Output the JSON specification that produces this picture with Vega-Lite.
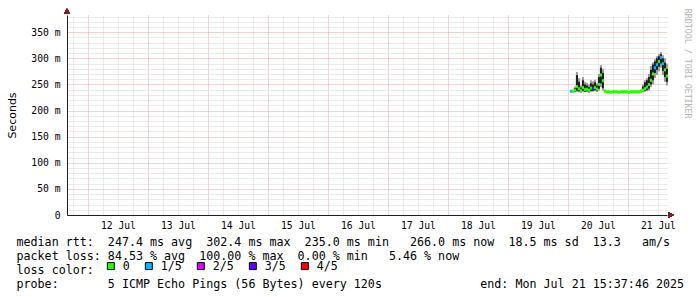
{
  "$schema": "https://vega.github.io/schema/vega-lite/v6.json",
  "width": 600,
  "height": 200,
  "autosize": {"type": "none"},
  "padding": {"left": 67, "top": 15, "right": 30, "bottom": 82},
  "background": "white",
  "config": {"view": {"stroke": null}, "font": "DejaVu Sans Mono", "axis": {"labelOverlap": false}},
  "title": {
    "text": "RRDTOOL / TOBI OETIKER",
    "orient": "right",
    "anchor": "start",
    "offset": 0,
    "font": "DejaVu Sans Mono",
    "fontSize": 8.3,
    "fontWeight": "normal",
    "color": "#b4b4b4"
  },
  "datasets": {
    "ping": [
      {"t": "2025-07-20T01:12", "med": 0.237, "loss": "1/5", "lo": 0.235, "hi": 0.239, "ilo": 0.236, "ihi": 0.238},
      {"t": "2025-07-20T02:00", "med": 0.237, "loss": "0", "lo": 0.235, "hi": 0.240, "ilo": 0.236, "ihi": 0.239},
      {"t": "2025-07-20T02:48", "med": 0.239, "loss": "0", "lo": 0.235, "hi": 0.246, "ilo": 0.236, "ihi": 0.243},
      {"t": "2025-07-20T03:36", "med": 0.246, "loss": "0", "lo": 0.236, "hi": 0.274, "ilo": 0.238, "ihi": 0.268},
      {"t": "2025-07-20T04:24", "med": 0.242, "loss": "0", "lo": 0.235, "hi": 0.262, "ilo": 0.237, "ihi": 0.255},
      {"t": "2025-07-20T05:12", "med": 0.238, "loss": "0", "lo": 0.234, "hi": 0.248, "ilo": 0.236, "ihi": 0.244},
      {"t": "2025-07-20T06:00", "med": 0.244, "loss": "0", "lo": 0.236, "hi": 0.264, "ilo": 0.238, "ihi": 0.258},
      {"t": "2025-07-20T06:48", "med": 0.240, "loss": "0", "lo": 0.235, "hi": 0.255, "ilo": 0.236, "ihi": 0.250},
      {"t": "2025-07-20T07:36", "med": 0.241, "loss": "0", "lo": 0.235, "hi": 0.253, "ilo": 0.237, "ihi": 0.248},
      {"t": "2025-07-20T08:24", "med": 0.239, "loss": "0", "lo": 0.234, "hi": 0.250, "ilo": 0.236, "ihi": 0.245},
      {"t": "2025-07-20T09:12", "med": 0.243, "loss": "0", "lo": 0.236, "hi": 0.258, "ilo": 0.238, "ihi": 0.252},
      {"t": "2025-07-20T10:00", "med": 0.242, "loss": "3/5", "lo": 0.236, "hi": 0.256, "ilo": 0.238, "ihi": 0.250},
      {"t": "2025-07-20T10:48", "med": 0.244, "loss": "0", "lo": 0.237, "hi": 0.259, "ilo": 0.239, "ihi": 0.254},
      {"t": "2025-07-20T11:36", "med": 0.241, "loss": "0", "lo": 0.236, "hi": 0.252, "ilo": 0.237, "ihi": 0.248},
      {"t": "2025-07-20T12:24", "med": 0.250, "loss": "0", "lo": 0.238, "hi": 0.270, "ilo": 0.242, "ihi": 0.264},
      {"t": "2025-07-20T13:12", "med": 0.268, "loss": "0", "lo": 0.245, "hi": 0.287, "ilo": 0.252, "ihi": 0.282},
      {"t": "2025-07-20T14:00", "med": 0.257, "loss": "0", "lo": 0.238, "hi": 0.280, "ilo": 0.243, "ihi": 0.272},
      {"t": "2025-07-20T14:48", "med": 0.237, "loss": "0", "lo": 0.235, "hi": 0.240, "ilo": 0.236, "ihi": 0.238},
      {"t": "2025-07-20T15:36", "med": 0.236, "loss": "0", "lo": 0.2355, "hi": 0.2365, "ilo": 0.2355, "ihi": 0.2365},
      {"t": "2025-07-20T16:24", "med": 0.236, "loss": "0", "lo": 0.2355, "hi": 0.2365, "ilo": 0.2355, "ihi": 0.2365},
      {"t": "2025-07-20T17:12", "med": 0.235, "loss": "0", "lo": 0.2345, "hi": 0.2355, "ilo": 0.2345, "ihi": 0.2355},
      {"t": "2025-07-20T18:00", "med": 0.236, "loss": "0", "lo": 0.2355, "hi": 0.2365, "ilo": 0.2355, "ihi": 0.2365},
      {"t": "2025-07-20T18:48", "med": 0.236, "loss": "0", "lo": 0.2355, "hi": 0.2365, "ilo": 0.2355, "ihi": 0.2365},
      {"t": "2025-07-20T19:36", "med": 0.236, "loss": "0", "lo": 0.2355, "hi": 0.2365, "ilo": 0.2355, "ihi": 0.2365},
      {"t": "2025-07-20T20:24", "med": 0.235, "loss": "0", "lo": 0.2345, "hi": 0.2355, "ilo": 0.2345, "ihi": 0.2355},
      {"t": "2025-07-20T21:12", "med": 0.236, "loss": "0", "lo": 0.2355, "hi": 0.2365, "ilo": 0.2355, "ihi": 0.2365},
      {"t": "2025-07-20T22:00", "med": 0.236, "loss": "0", "lo": 0.2355, "hi": 0.2365, "ilo": 0.2355, "ihi": 0.2365},
      {"t": "2025-07-20T22:48", "med": 0.236, "loss": "0", "lo": 0.2355, "hi": 0.2365, "ilo": 0.2355, "ihi": 0.2365},
      {"t": "2025-07-20T23:36", "med": 0.236, "loss": "0", "lo": 0.2355, "hi": 0.2365, "ilo": 0.2355, "ihi": 0.2365},
      {"t": "2025-07-21T00:24", "med": 0.235, "loss": "0", "lo": 0.2345, "hi": 0.2355, "ilo": 0.2345, "ihi": 0.2355},
      {"t": "2025-07-21T01:12", "med": 0.236, "loss": "0", "lo": 0.2355, "hi": 0.2365, "ilo": 0.2355, "ihi": 0.2365},
      {"t": "2025-07-21T02:00", "med": 0.236, "loss": "0", "lo": 0.2355, "hi": 0.2365, "ilo": 0.2355, "ihi": 0.2365},
      {"t": "2025-07-21T02:48", "med": 0.236, "loss": "0", "lo": 0.2355, "hi": 0.2365, "ilo": 0.2355, "ihi": 0.2365},
      {"t": "2025-07-21T03:36", "med": 0.236, "loss": "0", "lo": 0.2355, "hi": 0.2365, "ilo": 0.2355, "ihi": 0.2365},
      {"t": "2025-07-21T04:24", "med": 0.236, "loss": "0", "lo": 0.2355, "hi": 0.2365, "ilo": 0.2355, "ihi": 0.2365},
      {"t": "2025-07-21T05:12", "med": 0.237, "loss": "0", "lo": 0.235, "hi": 0.240, "ilo": 0.236, "ihi": 0.238},
      {"t": "2025-07-21T06:00", "med": 0.239, "loss": "0", "lo": 0.235, "hi": 0.250, "ilo": 0.237, "ihi": 0.246},
      {"t": "2025-07-21T06:48", "med": 0.242, "loss": "0", "lo": 0.236, "hi": 0.258, "ilo": 0.238, "ihi": 0.254},
      {"t": "2025-07-21T07:36", "med": 0.245, "loss": "0", "lo": 0.237, "hi": 0.262, "ilo": 0.239, "ihi": 0.258},
      {"t": "2025-07-21T08:24", "med": 0.250, "loss": "0", "lo": 0.238, "hi": 0.270, "ilo": 0.242, "ihi": 0.264},
      {"t": "2025-07-21T09:12", "med": 0.258, "loss": "0", "lo": 0.245, "hi": 0.285, "ilo": 0.250, "ihi": 0.278},
      {"t": "2025-07-21T10:00", "med": 0.270, "loss": "0", "lo": 0.250, "hi": 0.292, "ilo": 0.258, "ihi": 0.288},
      {"t": "2025-07-21T10:48", "med": 0.282, "loss": "1/5", "lo": 0.262, "hi": 0.298, "ilo": 0.272, "ihi": 0.294},
      {"t": "2025-07-21T11:36", "med": 0.288, "loss": "1/5", "lo": 0.268, "hi": 0.304, "ilo": 0.278, "ihi": 0.300},
      {"t": "2025-07-21T12:24", "med": 0.294, "loss": "0", "lo": 0.275, "hi": 0.308, "ilo": 0.284, "ihi": 0.304},
      {"t": "2025-07-21T13:12", "med": 0.302, "loss": "1/5", "lo": 0.282, "hi": 0.312, "ilo": 0.290, "ihi": 0.308},
      {"t": "2025-07-21T14:00", "med": 0.290, "loss": "1/5", "lo": 0.268, "hi": 0.306, "ilo": 0.276, "ihi": 0.300},
      {"t": "2025-07-21T14:48", "med": 0.278, "loss": "0", "lo": 0.255, "hi": 0.300, "ilo": 0.264, "ihi": 0.292},
      {"t": "2025-07-21T15:36", "med": 0.266, "loss": "0", "lo": 0.248, "hi": 0.290, "ilo": 0.255, "ihi": 0.280}
    ]
  },
  "resolve": {"scale": {"x": "independent", "y": "independent"}},
  "layer": [
    {
      "data": {"name": "ping"},
      "mark": {"type": "point", "opacity": 0},
      "encoding": {
        "x": {
          "field": "t", "type": "temporal",
          "scale": {"domain": [{"year": 2025, "month": 7, "date": 11, "hours": 15, "minutes": 37, "seconds": 46}, {"year": 2025, "month": 7, "date": 21, "hours": 15, "minutes": 37, "seconds": 46}]},
          "axis": {
            "orient": "top", "title": null, "labels": false, "ticks": false, "tickSize": 0, "domain": false, "tickCount": 200,
            "grid": true, "gridColor": "#d6d6d6", "gridDash": [1, 1], "gridWidth": 1,
            "values": [
              {"year": 2025, "month": 7, "date": 11, "hours": 18},
              {"year": 2025, "month": 7, "date": 12, "hours": 6}, {"year": 2025, "month": 7, "date": 12, "hours": 12}, {"year": 2025, "month": 7, "date": 12, "hours": 18},
              {"year": 2025, "month": 7, "date": 13, "hours": 6}, {"year": 2025, "month": 7, "date": 13, "hours": 12}, {"year": 2025, "month": 7, "date": 13, "hours": 18},
              {"year": 2025, "month": 7, "date": 14, "hours": 6}, {"year": 2025, "month": 7, "date": 14, "hours": 12}, {"year": 2025, "month": 7, "date": 14, "hours": 18},
              {"year": 2025, "month": 7, "date": 15, "hours": 6}, {"year": 2025, "month": 7, "date": 15, "hours": 12}, {"year": 2025, "month": 7, "date": 15, "hours": 18},
              {"year": 2025, "month": 7, "date": 16, "hours": 6}, {"year": 2025, "month": 7, "date": 16, "hours": 12}, {"year": 2025, "month": 7, "date": 16, "hours": 18},
              {"year": 2025, "month": 7, "date": 17, "hours": 6}, {"year": 2025, "month": 7, "date": 17, "hours": 12}, {"year": 2025, "month": 7, "date": 17, "hours": 18},
              {"year": 2025, "month": 7, "date": 18, "hours": 6}, {"year": 2025, "month": 7, "date": 18, "hours": 12}, {"year": 2025, "month": 7, "date": 18, "hours": 18},
              {"year": 2025, "month": 7, "date": 19, "hours": 6}, {"year": 2025, "month": 7, "date": 19, "hours": 12}, {"year": 2025, "month": 7, "date": 19, "hours": 18},
              {"year": 2025, "month": 7, "date": 20, "hours": 6}, {"year": 2025, "month": 7, "date": 20, "hours": 12}, {"year": 2025, "month": 7, "date": 20, "hours": 18},
              {"year": 2025, "month": 7, "date": 21, "hours": 6}, {"year": 2025, "month": 7, "date": 21, "hours": 12}
            ]
          }
        },
        "y": {
          "field": "med", "type": "quantitative",
          "scale": {"domain": [0, 0.383], "nice": false, "zero": false},
          "axis": {
            "orient": "right", "title": null, "labels": false, "ticks": false, "tickSize": 0, "domain": false, "tickCount": 200,
            "grid": true, "gridColor": "#d6d6d6", "gridDash": [1, 1], "gridWidth": 1,
            "values": [0.01, 0.02, 0.03, 0.04, 0.06, 0.07, 0.08, 0.09, 0.11, 0.12, 0.13, 0.14, 0.16, 0.17, 0.18, 0.19, 0.21, 0.22, 0.23, 0.24, 0.26, 0.27, 0.28, 0.29, 0.31, 0.32, 0.33, 0.34, 0.36, 0.37, 0.38]
          }
        }
      }
    },
    {
      "data": {"name": "ping"},
      "layer": [
        {
          "mark": {"type": "rule", "strokeWidth": 2, "color": "#9a9a9a"},
          "encoding": {
            "x": {
              "field": "t", "type": "temporal",
              "scale": {"domain": [{"year": 2025, "month": 7, "date": 11, "hours": 15, "minutes": 37, "seconds": 46}, {"year": 2025, "month": 7, "date": 21, "hours": 15, "minutes": 37, "seconds": 46}]},
              "axis": {
                "orient": "bottom", "format": "%d %b", "labelOffset": 30, "labelFlush": false, "labelOverlap": false, "tickCount": 200,
                "labelFont": "DejaVu Sans Mono", "labelFontSize": 9.7, "labelColor": "black", "labelPadding": 5,
                "ticks": false, "tickSize": 0, "domainColor": "#1f1f1f", "domainWidth": 1,
                "grid": true, "gridColor": "#eaa8a8", "gridDash": [1, 1], "gridWidth": 1,
                "values": [
                  {"year": 2025, "month": 7, "date": 12}, {"year": 2025, "month": 7, "date": 13}, {"year": 2025, "month": 7, "date": 14},
                  {"year": 2025, "month": 7, "date": 15}, {"year": 2025, "month": 7, "date": 16}, {"year": 2025, "month": 7, "date": 17},
                  {"year": 2025, "month": 7, "date": 18}, {"year": 2025, "month": 7, "date": 19}, {"year": 2025, "month": 7, "date": 20},
                  {"year": 2025, "month": 7, "date": 21}
                ],
                "title": [
                  "median\u00a0rtt:\u00a0\u00a0247.4\u00a0ms\u00a0avg\u00a0\u00a0302.4\u00a0ms\u00a0max\u00a0\u00a0235.0\u00a0ms\u00a0min\u00a0\u00a0\u00a0266.0\u00a0ms\u00a0now\u00a0\u00a018.5\u00a0ms\u00a0sd\u00a0\u00a013.3\u00a0\u00a0\u00a0am/s",
                  "packet\u00a0loss:\u00a084.53\u00a0%\u00a0avg\u00a0\u00a0100.00\u00a0%\u00a0max\u00a0\u00a00.00\u00a0%\u00a0min\u00a0\u00a0\u00a05.46\u00a0%\u00a0now",
                  "loss\u00a0color:",
                  "probe:\u00a0\u00a0\u00a0\u00a0\u00a0\u00a0\u00a05\u00a0ICMP\u00a0Echo\u00a0Pings\u00a0(56\u00a0Bytes)\u00a0every\u00a0120s\u00a0\u00a0\u00a0\u00a0\u00a0\u00a0\u00a0\u00a0\u00a0\u00a0\u00a0\u00a0\u00a0\u00a0end:\u00a0Mon\u00a0Jul\u00a021\u00a015:37:46\u00a02025"
                ],
                "titleFont": "DejaVu Sans Mono", "titleFontSize": 11.68, "titleFontWeight": "normal", "titleColor": "black",
                "titleAlign": "left", "titleAnchor": "start", "titleBaseline": "alphabetic", "titleLineHeight": 14,
                "titleX": -51, "titleY": 30
              }
            },
            "y": {
              "field": "lo", "type": "quantitative",
              "scale": {"domain": [0, 0.383], "nice": false, "zero": false},
              "axis": {
                "orient": "left", "tickCount": 200,
                "values": [0, 0.05, 0.1, 0.15, 0.2, 0.25, 0.3, 0.35],
                "labelExpr": "datum.value == 0 ? '0\u00a0\u00a0' : format(datum.value * 1000, '.0f') + '\u00a0m'",
                "labelOverlap": false,
                "labelFont": "DejaVu Sans Mono", "labelFontSize": 9.7, "labelColor": "black", "labelPadding": 7,
                "ticks": false, "tickSize": 0, "domainColor": "#1f1f1f", "domainWidth": 1,
                "grid": true, "gridColor": "#eaa8a8", "gridDash": [1, 1], "gridWidth": 1,
                "title": "Seconds", "titleFont": "DejaVu Sans", "titleFontSize": 11, "titleFontWeight": "normal", "titleColor": "black",
                "titleAngle": 270, "titleBaseline": "alphabetic", "titleAlign": "center", "titleX": -52, "titleY": 100
              }
            },
            "y2": {"field": "hi"}
          }
        },
        {
          "mark": {"type": "rule", "strokeWidth": 2, "color": "#1c1c1c"},
          "encoding": {
            "x": {"field": "t", "type": "temporal"},
            "y": {"field": "ilo", "type": "quantitative"},
            "y2": {"field": "ihi"}
          }
        },
        {
          "mark": {"type": "tick", "orient": "horizontal", "size": 2.2, "thickness": 3, "opacity": 1},
          "encoding": {
            "x": {"field": "t", "type": "temporal"},
            "y": {"field": "med", "type": "quantitative"},
            "color": {
              "field": "loss", "type": "nominal",
              "scale": {"domain": ["0", "1/5", "2/5", "3/5", "4/5"], "range": ["#26ff00", "#00b8ff", "#dd00ff", "#5e00ff", "#ff0000"]},
              "legend": {
                "orient": "none", "legendX": 38, "legendY": 245, "direction": "horizontal", "title": null,
                "symbolType": "square", "symbolSize": 49, "symbolStrokeColor": "black", "symbolStrokeWidth": 1, "symbolOpacity": 1,
                "labelFont": "DejaVu Sans Mono", "labelFontSize": 11.68, "labelColor": "black", "labelOffset": 6,
                "columnPadding": 13, "padding": 0
              }
            }
          }
        },
        {
          "mark": {"type": "point", "shape": "triangle-right", "filled": true, "size": 28, "color": "#7f1f1f", "opacity": 1, "xOffset": 4},
          "encoding": {
            "x": {"datum": {"year": 2025, "month": 7, "date": 21, "hours": 15, "minutes": 37, "seconds": 46}, "type": "temporal"},
            "y": {"datum": 0, "type": "quantitative"}
          }
        },
        {
          "mark": {"type": "point", "shape": "triangle-up", "filled": true, "size": 28, "color": "#7f1f1f", "opacity": 1, "yOffset": -4},
          "encoding": {
            "x": {"datum": {"year": 2025, "month": 7, "date": 11, "hours": 15, "minutes": 37, "seconds": 46}, "type": "temporal"},
            "y": {"datum": 0.383, "type": "quantitative"}
          }
        }
      ]
    }
  ]
}
